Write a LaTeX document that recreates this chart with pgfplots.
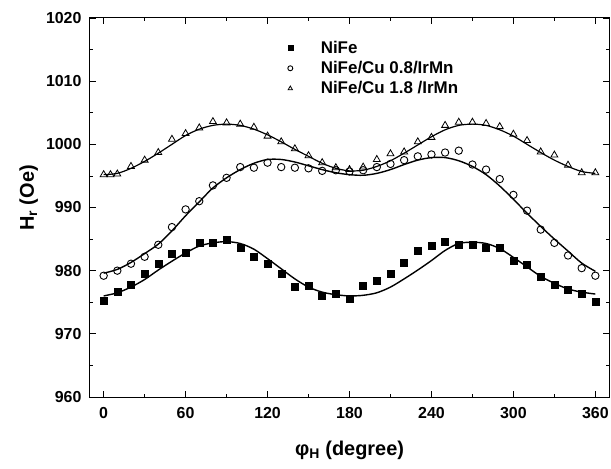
\documentclass[border=0pt]{standalone}
\usepackage{fontspec}
\setmainfont{Liberation Sans}
\usepackage{pgfplots}
\pgfplotsset{compat=1.18}
\begin{document}
\begin{tikzpicture}
\path[use as bounding box] (-90bp,-72bp) rectangle (521bp,397bp);
\begin{axis}[
  at={(0,0)}, anchor=south west,
  width=519bp, height=379bp, scale only axis,
  xmin=-10, xmax=370, ymin=960, ymax=1020,
  xtick={0,60,...,360}, ytick={960,970,...,1020},
  minor x tick num=1, minor y tick num=1,
  tick align=inside, xtick pos=both, ytick pos=both,
  xticklabel pos=lower, yticklabel pos=left,
  major tick length=6bp, minor tick length=3.5bp,
  every tick/.style={black, line width=0.8bp},
  axis line style={line width=1bp},
  /pgf/number format/assume math mode=true,
  /pgf/number format/1000 sep={},
  ticklabel style={font=\bfseries\fontsize{16}{16}\selectfont},
  xticklabel style={yshift=-7bp},
  yticklabel style={xshift=-5bp},
  xlabel={φ\textsubscript{H} (degree)},
  ylabel={H\textsubscript{r} (Oe)},
  label style={font=\bfseries\fontsize{20}{20}\selectfont},
  xlabel style={at={(axis description cs:0.5,-0.14)}, anchor=center},
  ylabel style={at={(axis description cs:-0.118,0.525)}, anchor=center},
  legend style={at={(axis description cs:0.375,0.95)}, anchor=north west,
    draw=none, fill=none, font=\bfseries\fontsize{17}{17}\selectfont,
    row sep=2.5bp, /tikz/every odd column/.append style={column sep=26bp}},
  legend cell align=left,
  legend image post style={mark size=2.5bp},
]
\addplot[only marks, mark=square*, mark size=3.5bp, black] coordinates {
(0,975.3)(10,976.6)(20,977.7)(30,979.5)(40,981.1)(50,982.7)(60,982.9)(70,984.4)(80,984.5)(90,984.9)
(100,983.6)(110,982.2)(120,981.1)(130,979.5)(140,977.5)(150,977.6)(160,976.1)(170,976.4)(180,975.6)
(190,977.6)(200,978.4)(210,979.5)(220,981.3)(230,983.2)(240,983.9)(250,984.6)(260,984.1)(270,984.1)
(280,983.6)(290,983.6)(300,981.6)(310,980.9)(320,979.1)(330,977.7)(340,977.0)(350,976.3)(360,975.1)};
\addlegendentry{NiFe}
\addplot[only marks, mark=o, mark size=3.7bp, black, mark options={line width=0.9bp}] coordinates {
(0,979.2)(10,980.0)(20,981.1)(30,982.2)(40,984.1)(50,986.9)(60,989.7)(70,991.0)(80,993.5)(90,994.7)
(100,996.4)(110,996.3)(120,997.1)(130,996.4)(140,996.3)(150,996.2)(160,995.8)(170,995.9)(180,995.7)
(190,995.9)(200,996.4)(210,996.9)(220,997.5)(230,998.1)(240,998.4)(250,998.7)(260,999.0)(270,996.8)
(280,996.0)(290,994.5)(300,992.0)(310,989.5)(320,986.5)(330,984.4)(340,982.4)(350,980.4)(360,979.2)};
\addlegendentry{NiFe/Cu 0.8/IrMn}
\addplot[only marks, mark=triangle, mark size=4bp, black, mark options={line width=0.8bp}] coordinates {
(0,995.2)(5,995.2)(10,995.3)(20,996.5)(30,997.5)(40,998.7)(50,1000.8)(60,1001.7)(70,1002.6)(80,1003.6)(90,1003.4)
(100,1003.2)(110,1002.7)(120,1001.3)(130,1000.4)(140,999.3)(150,998.2)(160,997.1)(170,996.3)(180,996.0)
(190,996.4)(200,997.6)(210,998.5)(220,998.8)(230,1000.4)(240,1001.1)(250,1003.0)(260,1003.5)(270,1003.5)
(280,1003.3)(290,1002.8)(300,1001.6)(310,1000.6)(320,998.8)(330,998.3)(340,996.7)(350,995.5)(360,995.5)};
\addlegendentry{NiFe/Cu 1.8 /IrMn}
\addplot[smooth, no marks, black, line width=1.4bp, forget plot] coordinates {
(0,976.0)(10,976.5)(20,977.4)(30,978.6)(40,980.1)(50,981.5)(60,982.8)(70,983.9)(80,984.4)(90,984.6)
(100,984.3)(110,983.4)(120,981.9)(130,980.3)(140,978.7)(150,977.4)(160,976.6)(170,976.2)(180,976.0)
(190,976.1)(200,976.5)(210,977.4)(220,978.7)(230,980.1)(240,981.6)(250,983.2)(260,984.3)(270,984.5)
(280,984.3)(290,983.5)(300,982.1)(310,980.6)(320,979.1)(330,978.0)(340,977.1)(350,976.6)(360,976.3)};
\addplot[smooth, no marks, black, line width=1.4bp, forget plot] coordinates {
(0,979.6)(10,980.2)(20,981.3)(30,982.7)(40,984.2)(50,986.3)(60,988.7)(70,990.9)(80,993.1)(90,994.7)
(100,996.0)(110,997.0)(120,997.6)(130,997.6)(140,997.2)(150,996.6)(160,996.0)(170,995.5)(180,995.2)
(190,995.1)(200,995.4)(210,996.0)(220,996.8)(230,997.5)(240,997.9)(250,997.9)(260,997.4)(270,996.5)
(280,995.2)(290,993.4)(300,991.3)(310,989.1)(320,987.0)(330,985.0)(340,983.1)(350,981.2)(360,979.9)};
\addplot[smooth, no marks, black, line width=1.2bp, forget plot] coordinates {
(0,995.2)(10,995.4)(20,996.2)(30,997.3)(40,998.6)(50,1000.0)(60,1001.4)(70,1002.4)(80,1003.0)(90,1003.2)
(100,1003.0)(110,1002.4)(120,1001.5)(130,1000.4)(140,999.2)(150,998.1)(160,997.0)(170,996.2)(180,995.8)
(190,995.9)(200,996.5)(210,997.4)(220,998.6)(230,999.9)(240,1001.2)(250,1002.3)(260,1003.0)(270,1003.2)
(280,1003.0)(290,1002.3)(300,1001.3)(310,1000.0)(320,998.7)(330,997.5)(340,996.5)(350,995.7)(360,995.4)};
\end{axis}
\end{tikzpicture}
\end{document}
